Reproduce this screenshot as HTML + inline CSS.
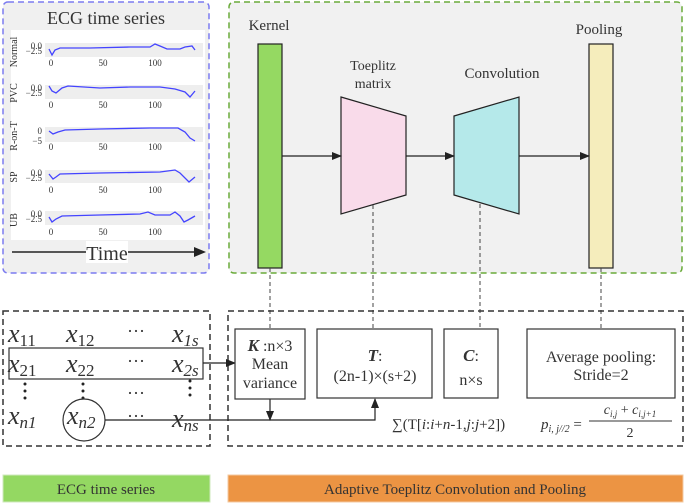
<!DOCTYPE html>
<html><head><meta charset="utf-8"><style>
body{margin:0;background:#fff}
svg{display:block}
text{font-family:"Liberation Serif",serif;fill:#333}
</style></head><body>
<svg width="685" height="504" viewBox="0 0 685 504" xmlns="http://www.w3.org/2000/svg">
<defs>
<marker id="ah" markerWidth="10" markerHeight="8" refX="9" refY="4" orient="auto" markerUnits="userSpaceOnUse"><path d="M0,0 L10,4 L0,8 Z" fill="#222"/></marker>
</defs>
<rect x="3" y="2" width="206" height="271" rx="5" fill="#f0f0f0" stroke="#7b7bf0" stroke-width="1.5" stroke-dasharray="6,4"/>
<text x="106" y="24" font-size="18" text-anchor="middle">ECG time series</text>
<rect x="11" y="30" width="194" height="210" fill="#fff"/>
<g font-size="9" fill="#444">
<rect x="45" y="43" width="158" height="14" fill="#eee"/>
<text transform="translate(17,52) rotate(-90)" font-size="10" text-anchor="middle">Normal</text>
<text x="42" y="49" font-size="9" text-anchor="end">0.0</text><text x="42" y="54" font-size="9" text-anchor="end">−2.5</text>
<text x="51" y="66" font-size="9" text-anchor="middle">0</text><text x="103" y="66" font-size="9" text-anchor="middle">50</text><text x="155" y="66" font-size="9" text-anchor="middle">100</text>
<polyline fill="none" stroke="#4444ff" stroke-width="1.3" points="49,49 52,55 55,50 60,48 90,48 130,47 150,47 155,44 160,46 167,49 180,49 185,47 192,46 195,50"/>
<rect x="45" y="85" width="158" height="14" fill="#eee"/>
<text transform="translate(17,93) rotate(-90)" font-size="10" text-anchor="middle">PVC</text>
<text x="42" y="91" font-size="9" text-anchor="end">0.0</text><text x="42" y="96" font-size="9" text-anchor="end">−2.5</text>
<text x="51" y="108" font-size="9" text-anchor="middle">0</text><text x="103" y="108" font-size="9" text-anchor="middle">50</text><text x="155" y="108" font-size="9" text-anchor="middle">100</text>
<polyline fill="none" stroke="#4444ff" stroke-width="1.3" points="49,86 52,91 56,93 62,88 68,86 100,88 130,87 160,87 175,89 185,92 190,97 195,91"/>
<rect x="45" y="127" width="158" height="15" fill="#eee"/>
<text transform="translate(17,136) rotate(-90)" font-size="10" text-anchor="middle">R-on-T</text>
<text x="42" y="134" font-size="9" text-anchor="end">0</text><text x="42" y="144" font-size="9" text-anchor="end">−5</text>
<text x="51" y="150" font-size="9" text-anchor="middle">0</text><text x="103" y="150" font-size="9" text-anchor="middle">50</text><text x="155" y="150" font-size="9" text-anchor="middle">100</text>
<polyline fill="none" stroke="#4444ff" stroke-width="1.3" points="49,131 53,134 58,132 65,130 100,129 150,128 178,128 185,132 190,138 195,141"/>
<rect x="45" y="170" width="158" height="13" fill="#eee"/>
<text transform="translate(17,177) rotate(-90)" font-size="10" text-anchor="middle">SP</text>
<text x="42" y="176" font-size="9" text-anchor="end">0.0</text><text x="42" y="181" font-size="9" text-anchor="end">−2.5</text>
<text x="51" y="193" font-size="9" text-anchor="middle">0</text><text x="103" y="193" font-size="9" text-anchor="middle">50</text><text x="155" y="193" font-size="9" text-anchor="middle">100</text>
<polyline fill="none" stroke="#4444ff" stroke-width="1.3" points="49,174 53,179 56,177 60,174 100,173 160,172 175,170 180,173 189,182 195,177"/>
<rect x="45" y="211" width="158" height="14" fill="#eee"/>
<text transform="translate(17,220) rotate(-90)" font-size="10" text-anchor="middle">UB</text>
<text x="42" y="217" font-size="9" text-anchor="end">0.0</text><text x="42" y="222" font-size="9" text-anchor="end">−2.5</text>
<text x="51" y="235" font-size="9" text-anchor="middle">0</text><text x="103" y="235" font-size="9" text-anchor="middle">50</text><text x="155" y="235" font-size="9" text-anchor="middle">100</text>
<polyline fill="none" stroke="#4444ff" stroke-width="1.3" points="49,217 52,222 56,219 62,216 100,215 140,214 148,212 155,215 170,215 175,212 180,216 184,222 188,220 195,216"/>
</g>
<line x1="12" y1="252" x2="196" y2="252" stroke="#222" stroke-width="1.5"/>
<path d="M194,247 L206,252 L194,257 Z" fill="#222"/>
<rect x="86" y="241" width="42" height="22" fill="#fff"/>
<text x="107" y="260" font-size="20" text-anchor="middle">Time</text>

<rect x="229" y="2" width="453" height="271" rx="5" fill="#f1f1f1" stroke="#6aab3a" stroke-width="1.5" stroke-dasharray="6,4"/>
<text x="269" y="30" font-size="15" text-anchor="middle">Kernel</text>
<text x="599" y="34" font-size="15" text-anchor="middle">Pooling</text>
<text x="373" y="70" font-size="14" text-anchor="middle">Toeplitz</text>
<text x="373" y="88" font-size="14" text-anchor="middle">matrix</text>
<text x="502" y="78" font-size="15" text-anchor="middle">Convolution</text>
<rect x="258" y="44" width="24" height="224" fill="#95d962" stroke="#222" stroke-width="1.2"/>
<rect x="589" y="44" width="24" height="224" fill="#f5edbc" stroke="#222" stroke-width="1.2"/>
<polygon points="341,97 406,116 406,195 341,214" fill="#f9dbea" stroke="#222" stroke-width="1.2"/>
<polygon points="454,116 519,97 519,214 454,195" fill="#b5e9ea" stroke="#222" stroke-width="1.2"/>
<line x1="282" y1="156" x2="341" y2="156" stroke="#222" stroke-width="1.2" marker-end="url(#ah)"/>
<line x1="406" y1="156" x2="454" y2="156" stroke="#222" stroke-width="1.2" marker-end="url(#ah)"/>
<line x1="519" y1="156" x2="589" y2="156" stroke="#222" stroke-width="1.2" marker-end="url(#ah)"/>

<g stroke="#444" stroke-width="1" stroke-dasharray="4,3">
<line x1="270" y1="268" x2="270" y2="329"/>
<line x1="373" y1="205" x2="373" y2="329"/>
<line x1="480" y1="204" x2="480" y2="329"/>
<line x1="601" y1="268" x2="601" y2="329"/>
</g>

<rect x="3" y="311" width="207" height="135" fill="none" stroke="#333" stroke-width="1.5" stroke-dasharray="6,4"/>
<rect x="228" y="311" width="455" height="135" fill="none" stroke="#333" stroke-width="1.5" stroke-dasharray="6,4"/>

<g font-style="italic" font-size="26" fill="#222">
<text x="8" y="342">x<tspan font-size="17" font-style="normal" dy="4">11</tspan></text>
<text x="66" y="342">x<tspan font-size="17" font-style="normal" dy="4">12</tspan></text>
<text x="172" y="342">x<tspan font-size="17" dy="4">1<tspan font-style="italic">s</tspan></tspan></text>
<text x="8" y="372">x<tspan font-size="17" font-style="normal" dy="4">21</tspan></text>
<text x="66" y="372">x<tspan font-size="17" font-style="normal" dy="4">22</tspan></text>
<text x="172" y="372">x<tspan font-size="17" dy="4">2<tspan font-style="italic">s</tspan></tspan></text>
<text x="8" y="424">x<tspan font-size="17" dy="4">n1</tspan></text>
<text x="67" y="424">x<tspan font-size="17" dy="4">n2</tspan></text>
<text x="172" y="427">x<tspan font-size="17" dy="4">ns</tspan></text>
</g>
<g font-size="18" fill="#222" text-anchor="middle">
<text x="136" y="337">···</text><text x="136" y="367">···</text><text x="136" y="399">···</text><text x="136" y="422">···</text>
</g>
<g fill="#222">
<circle cx="25" cy="384" r="1.5"/><circle cx="25" cy="391" r="1.5"/><circle cx="25" cy="398" r="1.5"/>
<circle cx="83" cy="384" r="1.5"/><circle cx="83" cy="391" r="1.5"/><circle cx="83" cy="398" r="1.5"/>
<circle cx="190" cy="381" r="1.5"/><circle cx="190" cy="388" r="1.5"/><circle cx="190" cy="395" r="1.5"/>
</g>
<rect x="9" y="348" width="194" height="31" fill="none" stroke="#333" stroke-width="1.2"/>
<circle cx="84" cy="420" r="21" fill="none" stroke="#333" stroke-width="1.2"/>
<line x1="203" y1="363" x2="235" y2="363" stroke="#222" stroke-width="1.2" marker-end="url(#ah)"/>
<polyline points="105,420 375,420 375,399" fill="none" stroke="#222" stroke-width="1.2" marker-end="url(#ah)"/>
<line x1="270" y1="399" x2="270" y2="420" stroke="#222" stroke-width="1.2" marker-end="url(#ah)"/>

<g fill="#fff" stroke="#333" stroke-width="1.2">
<rect x="235" y="329" width="70" height="70"/>
<rect x="317" y="329" width="115" height="69"/>
<rect x="444" y="329" width="54" height="69"/>
<rect x="527" y="329" width="148" height="69"/>
</g>
<g font-size="16" fill="#333" text-anchor="middle">
<text x="270" y="351"><tspan font-weight="bold" font-style="italic" font-size="17">K</tspan> :n×3</text>
<text x="270" y="369">Mean</text>
<text x="270" y="388">variance</text>
<text x="375" y="361"><tspan font-weight="bold" font-style="italic" font-size="17">T</tspan>:</text>
<text x="375" y="381">(2n-1)×(s+2)</text>
<text x="471" y="361"><tspan font-weight="bold" font-style="italic" font-size="17">C</tspan>:</text>
<text x="471" y="385">n×s</text>
<text x="601" y="362">Average pooling:</text>
<text x="601" y="380">Stride=2</text>
</g>
<text x="392" y="429" font-size="15" fill="#333">∑(T[<tspan font-style="italic">i</tspan>:<tspan font-style="italic">i</tspan>+<tspan font-style="italic">n</tspan>-1,<tspan font-style="italic">j</tspan>:<tspan font-style="italic">j</tspan>+2])</text>
<text x="541" y="429" font-size="15" fill="#333" font-style="italic">p<tspan font-size="10" dy="3">i, j//2</tspan><tspan dy="-3" font-style="normal"> =</tspan></text>
<text x="630" y="414" font-size="14" fill="#333" text-anchor="middle"><tspan font-style="italic">c</tspan><tspan font-size="9" font-style="italic" dy="3">i,j</tspan><tspan dy="-3"> + </tspan><tspan font-style="italic">c</tspan><tspan font-size="9" font-style="italic" dy="3">i,j+1</tspan></text>
<line x1="589" y1="421" x2="672" y2="421" stroke="#333" stroke-width="1"/>
<text x="630" y="437" font-size="14" fill="#333" text-anchor="middle">2</text>

<rect x="3" y="475" width="207" height="27" fill="#94d862" stroke="#cfe9bd" stroke-width="1"/>
<text x="106" y="494" font-size="15" text-anchor="middle" fill="#333">ECG time series</text>
<rect x="228" y="475" width="455" height="27" fill="#ec9443" stroke="#f3c9a0" stroke-width="1"/>
<text x="455" y="494" font-size="15" text-anchor="middle" fill="#333">Adaptive Toeplitz Convolution and Pooling</text>
</svg>
</body></html>
